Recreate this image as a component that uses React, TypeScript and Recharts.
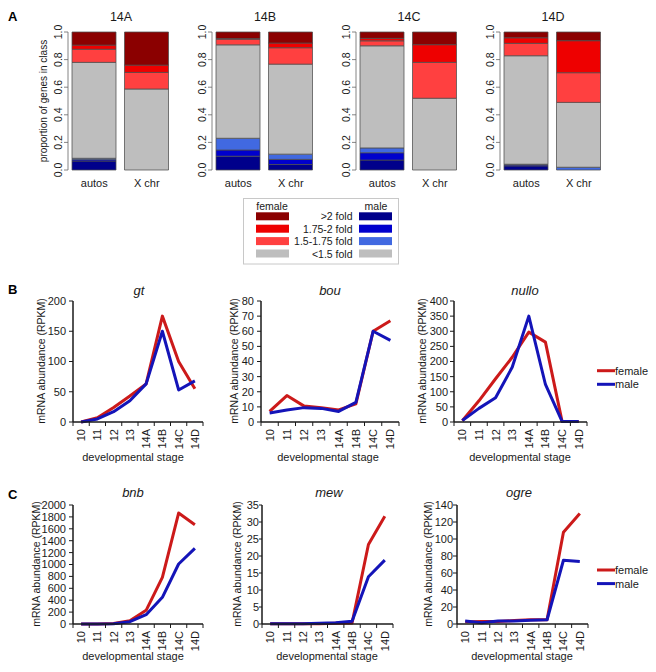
import React from 'react';
import { BarChart, Bar, XAxis, YAxis, LineChart, Line } from 'recharts';

const FONT = '"Liberation Sans", Arial, Helvetica, sans-serif';

// ---------------- Panel A data ----------------
const stagesA = ['14A', '14B', '14C', '14D'];
const chromGroups = ['autos', 'X chr'];
// each entry: per stage, [autos, X chr]
const maleOver2 = [[0.065, 0], [0.1, 0.04], [0.072, 0], [0.03, 0]];
const male175to2 = [[0.01, 0], [0.045, 0.037], [0.053, 0], [0.008, 0]];
const male15to175 = [[0.01, 0], [0.085, 0.038], [0.035, 0], [0.004, 0.02]];
const under15 = [[0.695, 0.587], [0.677, 0.652], [0.74, 0.52], [0.786, 0.47]];
const female15to175 = [[0.095, 0.12], [0.04, 0.119], [0.036, 0.26], [0.09, 0.215]];
const female175to2 = [[0.03, 0.053], [0.006, 0.034], [0.018, 0.128], [0.04, 0.232]];
const femaleOver2 = [[0.095, 0.24], [0.047, 0.08], [0.046, 0.092], [0.042, 0.063]];
const propTicks = [0, 0.2, 0.4, 0.6, 0.8, 1.0];

const segKeys = ['mOver2', 'm175', 'm15', 'under', 'f15', 'f175', 'fOver2'];
const segArrays = [maleOver2, male175to2, male15to175, under15, female15to175, female175to2, femaleOver2];
const segColors = ['#00008B', '#0000CD', '#4169E1', '#BEBEBE', '#FF4040', '#EE0000', '#8B0000'];

const legendLabels = ['>2 fold', '1.75-2 fold', '1.5-1.75 fold', '<1.5 fold'];
const legendFemale = ['#8B0000', '#EE0000', '#FF4040', '#BEBEBE'];
const legendMale = ['#00008B', '#0000CD', '#4169E1', '#BEBEBE'];

// ---------------- Panels B / C data ----------------
const stages = ['10', '11', '12', '13', '14A', '14B', '14C', '14D'];
const gtFemale = [0, 7, 24, 43, 63, 175, 100, 55];
const gtMale = [0, 5, 17, 35, 63, 150, 53, 68];
const bouFemale = [7, 17.5, 10.5, 9.5, 8, 12, 60, 67];
const bouMale = [6, 8, 9.5, 9, 7, 13, 60, 54];
const nulloFemale = [4, 70, 143, 214, 297, 264, 2, 2];
const nulloMale = [5, 45, 80, 181, 350, 124, 2, 2];
const bnbFemale = [0, 2, 10, 56, 230, 784, 1865, 1669];
const bnbMale = [0, 1, 5, 39, 157, 448, 1008, 1271];
const mewFemale = [0.1, 0.1, 0.1, 0.1, 0.2, 0.3, 23.4, 31.7];
const mewMale = [0.1, 0.1, 0.1, 0.2, 0.4, 0.8, 13.9, 18.8];
const ogreFemale = [2.5, 3, 3, 4, 5, 5, 108, 130];
const ogreMale = [3.5, 1.5, 3.5, 3.5, 4.5, 5, 75, 73.5];

const gtTicks = [0, 50, 100, 150, 200];
const bouTicks = [0, 10, 20, 30, 40, 50, 60, 70, 80];
const nulloTicks = [0, 50, 100, 150, 200, 250, 300, 350, 400];
const bnbTicks = [0, 200, 400, 600, 800, 1000, 1200, 1400, 1600, 1800, 2000];
const mewTicks = [0, 5, 10, 15, 20, 25, 30, 35];
const ogreTicks = [0, 20, 40, 60, 80, 100, 120, 140];

const RED = '#CC1A1A';
const BLUE = '#1414B8';
const INK = '#1a1a1a';

// ---------------- Panel A component ----------------
function ProportionPanel({ idx }: { idx: number }) {
  const data = chromGroups.map((g, j) => {
    const row: any = { group: g };
    segKeys.forEach((k, s) => {
      row[k] = segArrays[s][idx][j];
    });
    return row;
  });
  const YTick = (p: any) => {
    const { x, y, payload } = p;
    const tx = x;
    return (
      <text x={tx} y={y} transform={`rotate(-90 ${tx} ${y})`} textAnchor="middle" fontSize={10.5} fill={INK} fontFamily={FONT}>
        {Number(payload.value).toFixed(1)}
      </text>
    );
  };
  const XTick = (p: any) => {
    const { x, y, payload } = p;
    return (
      <text x={x} y={y + 17} textAnchor="middle" fontSize={11} fill={INK} fontFamily={FONT}>
        {payload.value}
      </text>
    );
  };
  return (
    <div style={{ position: 'absolute', left: 144 * idx, top: 0 }}>
      <BarChart width={180} height={195} data={data} margin={{ top: 32, right: 7, bottom: 5, left: 0 }}>
        <XAxis dataKey="group" axisLine={false} tickLine={false} tickSize={0} tickMargin={0} height={20} tick={XTick} interval={0} />
        <YAxis domain={[0, 1]} ticks={propTicks} width={68} axisLine={{ stroke: '#666', strokeWidth: 0.8 }} tickLine={{ stroke: '#666', strokeWidth: 0.8 }} tickSize={4} tickMargin={2} tick={YTick} interval={0} />
        {segKeys.map((k, s) => (
          <Bar key={k} dataKey={k} stackId="s" fill={segColors[s]} stroke="#4d4d4d" strokeWidth={0.75} barSize={44} isAnimationActive={false} />
        ))}
      </BarChart>
    </div>
  );
}

// ---------------- Panels B / C component ----------------
type ExprProps = {
  female: number[];
  male: number[];
  yTicks: number[];
  left: number;
  right: number;
  top: number;
  bottom: number;
  gap: number;
};

function ExprPanel({ female, male, yTicks, left, right, top, bottom, gap }: ExprProps) {
  const data = stages.map((s, i) => ({ stage: s, female: female[i], male: male[i] }));
  const YW = 60;
  const MT = 10;
  const MR = 10;
  const XH = 45;
  const w = right - left;
  const h = bottom - top;
  const band = w / stages.length;
  const yMax = yTicks[yTicks.length - 1];
  const tSize = Math.min(4, gap);
  const tMargin = gap - tSize;
  const XTick = (p: any) => {
    const { x, y, payload, index } = p;
    const tx = x + 4;
    const ty = y + 7;
    return (
      <g>
        <line x1={x - band / 2} x2={x - band / 2} y1={y} y2={y + 4} stroke={INK} strokeWidth={1} />
        {index === stages.length - 1 ? (
          <line x1={x + band / 2} x2={x + band / 2} y1={y} y2={y + 4} stroke={INK} strokeWidth={1} />
        ) : null}
        <text x={tx} y={ty} transform={`rotate(-90 ${tx} ${ty})`} textAnchor="end" fontSize={11} fill={INK} fontFamily={FONT}>
          {payload.value}
        </text>
      </g>
    );
  };
  const frame = { stroke: INK, strokeWidth: 1.5 };
  return (
    <div style={{ position: 'absolute', left: left - YW, top: top - MT }}>
      <LineChart width={YW + w + MR} height={MT + h + XH} data={data} margin={{ top: MT, right: MR, bottom: 0, left: 0 }}>
        <XAxis dataKey="stage" scale="band" height={XH} tickSize={0} tickMargin={0} tickLine={false} axisLine={frame} tick={XTick} interval={0} />
        <XAxis xAxisId="top" orientation="top" dataKey="stage" scale="band" height={0} tick={false} tickLine={false} axisLine={frame} />
        <YAxis domain={[0, yMax]} ticks={yTicks} width={YW} tickSize={tSize} tickMargin={tMargin} axisLine={frame} tickLine={{ stroke: INK, strokeWidth: 1 }} tick={{ fontSize: 11, fill: INK, fontFamily: FONT }} interval={0} />
        <YAxis yAxisId="right" orientation="right" domain={[0, yMax]} width={0} tick={false} tickLine={false} axisLine={frame} />
        <Line dataKey="female" stroke={RED} strokeWidth={3} dot={false} strokeLinejoin="round" isAnimationActive={false} />
        <Line dataKey="male" stroke={BLUE} strokeWidth={3} dot={false} strokeLinejoin="round" isAnimationActive={false} />
      </LineChart>
    </div>
  );
}

const panelsB = [
  { name: 'gt', female: gtFemale, male: gtMale, yTicks: gtTicks, left: 73, right: 203, top: 301, bottom: 422, gap: 7, tx: 139, ytx: 42, xtx: 133 },
  { name: 'bou', female: bouFemale, male: bouMale, yTicks: bouTicks, left: 261, right: 399, top: 301, bottom: 422, gap: 7, tx: 330, ytx: 235, xtx: 328 },
  { name: 'nullo', female: nulloFemale, male: nulloMale, yTicks: nulloTicks, left: 454, right: 587, top: 301, bottom: 422, gap: 6, tx: 525, ytx: 423, xtx: 520 },
];
const panelsC = [
  { name: 'bnb', female: bnbFemale, male: bnbMale, yTicks: bnbTicks, left: 73, right: 203, top: 505, bottom: 624, gap: 7, tx: 133, ytx: 37, xtx: 133 },
  { name: 'mew', female: mewFemale, male: mewMale, yTicks: mewTicks, left: 262, right: 393, top: 505, bottom: 624, gap: 3, tx: 329, ytx: 238, xtx: 327 },
  { name: 'ogre', female: ogreFemale, male: ogreMale, yTicks: ogreTicks, left: 457, right: 588, top: 505, bottom: 624, gap: 4, tx: 519, ytx: 429, xtx: 522 },
];

function Overlay() {
  const rowsY = [216.3, 228.7, 241.1, 253.5];
  const rotText = (x: number, y: number, txt: string, size: number) => (
    <text x={x} y={y} transform={`rotate(-90 ${x} ${y})`} textAnchor="middle" fontSize={size} fill={INK}>
      {txt}
    </text>
  );
  const lineLegend = (y0: number) => (
    <g>
      <line x1={597} x2={615} y1={y0} y2={y0} stroke={RED} strokeWidth={3} />
      <text x={615} y={y0 + 4} fontSize={11} fill={INK}>female</text>
      <line x1={597} x2={615} y1={y0 + 13.6} y2={y0 + 13.6} stroke={BLUE} strokeWidth={3} />
      <text x={615} y={y0 + 17.6} fontSize={11} fill={INK}>male</text>
    </g>
  );
  return (
    <svg width={656} height={672} style={{ position: 'absolute', left: 0, top: 0, pointerEvents: 'none' }} fontFamily={FONT}>
      {/* Panel A */}
      <text x={8} y={21} fontSize={13} fontWeight="bold" fill="#000">A</text>
      {stagesA.map((s, i) => (
        <text key={s} x={121 + 144 * i} y={21} fontSize={12.5} textAnchor="middle" fill={INK}>{s}</text>
      ))}
      {rotText(47, 101, 'proportion of genes in class', 10)}
      {/* Legend box */}
      <rect x={243.5} y={198.5} width={155} height={65.5} fill="#fff" stroke="#c8c8c8" strokeWidth={1} />
      <text x={272} y={209.5} fontSize={10.5} textAnchor="middle" fill={INK}>female</text>
      <text x={376} y={209.5} fontSize={10.5} textAnchor="middle" fill={INK}>male</text>
      {legendLabels.map((lab, i) => (
        <g key={lab}>
          <rect x={256} y={rowsY[i] - 4} width={33} height={8} fill={legendFemale[i]} />
          <rect x={359} y={rowsY[i] - 4} width={33} height={8} fill={legendMale[i]} />
          <text x={352.5} y={rowsY[i] + 4} fontSize={10.5} textAnchor="end" fill={INK}>{lab}</text>
        </g>
      ))}
      {/* Panel B */}
      <text x={8} y={294} fontSize={13} fontWeight="bold" fill="#000">B</text>
      {panelsB.map((p) => (
        <g key={p.name}>
          <text x={p.tx} y={295} fontSize={13} fontStyle="italic" textAnchor="middle" fill={INK}>{p.name}</text>
          {rotText(p.ytx + 3, 361, 'mRNA abundance (RPKM)', 10.5)}
          <text x={p.xtx} y={460.5} fontSize={11} textAnchor="middle" fill={INK}>developmental stage</text>
        </g>
      ))}
      {lineLegend(370.7)}
      {/* Panel C */}
      <text x={8} y={499} fontSize={13} fontWeight="bold" fill="#000">C</text>
      {panelsC.map((p) => (
        <g key={p.name}>
          <text x={p.tx} y={497} fontSize={13} fontStyle="italic" textAnchor="middle" fill={INK}>{p.name}</text>
          {rotText(p.ytx + 3, 564, 'mRNA abundance (RPKM)', 10.5)}
          <text x={p.xtx} y={660} fontSize={11} textAnchor="middle" fill={INK}>developmental stage</text>
        </g>
      ))}
      {lineLegend(570)}
    </svg>
  );
}

export default function App() {
  return (
    <div style={{ position: 'absolute', left: 0, top: 0, width: 656, height: 672, background: '#fff', fontFamily: FONT, overflow: 'hidden' }}>
      {stagesA.map((s, i) => (
        <ProportionPanel key={s} idx={i} />
      ))}
      {panelsB.map((p) => (
        <ExprPanel key={p.name} female={p.female} male={p.male} yTicks={p.yTicks} left={p.left} right={p.right} top={p.top} bottom={p.bottom} gap={p.gap} />
      ))}
      {panelsC.map((p) => (
        <ExprPanel key={p.name} female={p.female} male={p.male} yTicks={p.yTicks} left={p.left} right={p.right} top={p.top} bottom={p.bottom} gap={p.gap} />
      ))}
      <Overlay />
    </div>
  );
}
